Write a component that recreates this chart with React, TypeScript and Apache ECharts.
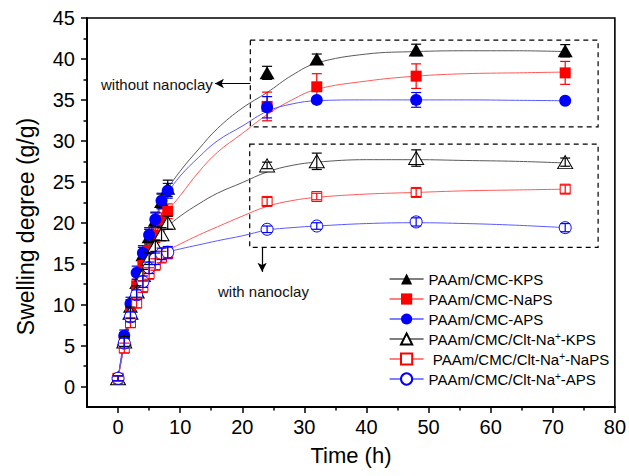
import React, { useEffect, useRef } from "react";
import * as echarts from "echarts";

const FONT = "'Liberation Sans', Arial, Helvetica, sans-serif";

// Measurement times (h)
const times = [0, 1, 2, 3, 4, 5, 6, 7, 8, 24, 32, 48, 72];

// Swelling degree (g/g) per sample
const kps = [1.0, 5.8, 9.8, 12.7, 16.1, 18.3, 20.3, 22.6, 24.2, 38.3, 40.0, 41.1, 41.0];
const kpsErr = [0.3, 0.8, 0.8, 0.8, 0.9, 0.9, 0.9, 0.9, 1.0, 0.8, 0.6, 0.7, 0.75];
const naps = [1.0, 5.6, 9.0, 12.3, 14.8, 16.6, 18.5, 20.3, 21.4, 34.2, 36.6, 37.9, 38.3];
const napsErr = [0.3, 0.7, 0.8, 0.8, 0.9, 0.9, 0.9, 0.9, 0.9, 1.75, 1.6, 1.5, 1.4];
const aps = [1.0, 6.2, 10.1, 13.9, 16.3, 18.5, 20.4, 22.7, 23.9, 34.1, 35.0, 35.0, 34.9];
const apsErr = [0.3, 0.7, 0.8, 0.8, 0.9, 0.9, 0.9, 0.9, 0.9, 1.3, 0.3, 0.9, 0.3];
const cltKps = [1.0, 5.5, 9.0, 11.6, 13.6, 15.6, 17.2, 18.6, 20.0, 27.0, 27.5, 27.9, 27.4];
const cltKpsErr = [0.3, 0.6, 0.7, 0.7, 0.7, 0.7, 0.7, 0.8, 0.8, 0.4, 1.0, 1.0, 0.5];
const cltNaps = [1.0, 4.7, 7.8, 10.2, 12.2, 13.8, 14.9, 15.8, 16.3, 22.6, 23.2, 23.7, 24.1];
const cltNapsErr = [0.3, 0.6, 0.6, 0.6, 0.7, 0.7, 0.7, 0.7, 0.7, 0.5, 0.4, 0.5, 0.5];
const cltAps = [1.0, 5.3, 8.5, 11.2, 12.8, 14.5, 15.6, 16.2, 16.4, 19.2, 19.6, 20.1, 19.4];
const cltApsErr = [0.3, 0.6, 0.6, 0.6, 0.7, 0.7, 0.7, 0.7, 0.7, 0.4, 0.4, 0.5, 0.5];

// Fitted curves
const fitTimes = [0, 1, 2, 3, 4, 5, 6, 7, 8, 10, 13, 16, 20, 24, 28, 32, 40, 48, 56, 64, 72];
const fitKps = [1.0, 5.6, 9.6, 12.9, 15.8, 18.3, 20.5, 22.5, 24.1, 26.3, 29.0, 31.5, 34.0, 35.9, 38.0, 39.5, 40.6, 40.9, 41.0, 41.0, 40.9];
const fitNaps = [1.0, 5.3, 8.9, 12.0, 14.6, 16.8, 18.6, 20.1, 21.4, 23.3, 26.2, 28.6, 30.9, 33.2, 35.0, 36.3, 37.3, 37.9, 38.2, 38.3, 38.4];
const fitAps = [1.0, 6.0, 10.0, 13.4, 16.1, 18.4, 20.4, 22.1, 23.6, 25.7, 28.0, 30.0, 31.8, 33.6, 34.5, 34.9, 35.0, 35.0, 35.0, 34.95, 34.9];
const fitCltKps = [1.0, 5.3, 8.9, 11.6, 13.8, 15.6, 17.1, 18.4, 19.5, 20.8, 22.3, 23.6, 24.9, 26.2, 27.0, 27.4, 27.7, 27.7, 27.6, 27.5, 27.3];
const fitCltNaps = [1.0, 4.8, 7.9, 10.3, 12.3, 13.8, 15.0, 15.9, 16.6, 17.4, 18.5, 19.5, 20.8, 22.0, 22.7, 23.1, 23.5, 23.7, 23.9, 24.0, 24.1];
const fitCltAps = [1.0, 5.2, 8.5, 11.0, 12.9, 14.3, 15.3, 16.0, 16.4, 16.8, 17.3, 17.8, 18.4, 19.1, 19.4, 19.6, 19.9, 20.0, 19.9, 19.7, 19.4];

// Axis ticks
const xMajor = [0, 10, 20, 30, 40, 50, 60, 70, 80];
const xMinor = [5, 15, 25, 35, 45, 55, 65, 75];
const yMajor = [0, 5, 10, 15, 20, 25, 30, 35, 40, 45];
const yMinor = [2.5, 7.5, 12.5, 17.5, 22.5, 27.5, 32.5, 37.5, 42.5];

// Annotation boxes (data coordinates)
const boxWithout = [[21.3, 42.3], [77.3, 31.7]];
const boxWith = [[21.2, 29.6], [77.3, 17.0]];
const arrowWithout = [[21.3, 37.0], [15.6, 37.0]];
const arrowWith = [[23.2, 17.0], [23.2, 14.0]];

const names = [
  "PAAm/CMC-KPS",
  "PAAm/CMC-NaPS",
  "PAAm/CMC-APS",
  "PAAm/CMC/Clt-Na+-KPS",
  "PAAm/CMC/Clt-Na+-NaPS",
  "PAAm/CMC/Clt-Na+-APS",
];

export default function App() {
  const ref = useRef<HTMLDivElement>(null);

  useEffect(() => {
    if (!ref.current) return;
    const chart = echarts.init(ref.current, null, { renderer: "svg" });

    const sets = [
      { name: names[0], vals: kps, err: kpsErr, fit: fitKps, color: "#000000", fitColor: "#5a5a5a", symbol: "triangle", size: [15, 13], open: false },
      { name: names[1], vals: naps, err: napsErr, fit: fitNaps, color: "#ff0000", fitColor: "#ff5a5a", symbol: "rect", size: 11, open: false },
      { name: names[2], vals: aps, err: apsErr, fit: fitAps, color: "#0000ff", fitColor: "#5a5aff", symbol: "circle", size: 12, open: false },
      { name: names[3], vals: cltKps, err: cltKpsErr, fit: fitCltKps, color: "#000000", fitColor: "#5a5a5a", symbol: "triangle", size: [15, 13], open: true },
      { name: names[4], vals: cltNaps, err: cltNapsErr, fit: fitCltNaps, color: "#ff0000", fitColor: "#ff5a5a", symbol: "rect", size: 10, open: true },
      { name: names[5], vals: cltAps, err: cltApsErr, fit: fitCltAps, color: "#0000ff", fitColor: "#5a5aff", symbol: "circle", size: 12, open: true },
    ];

    const series: any[] = [];

    sets.forEach((s, i) => {
      series.push({
        type: "line",
        name: s.name + "_fit",
        data: fitTimes.map((t, k) => [t, s.fit[k]]),
        smooth: 0.4,
        showSymbol: false,
        symbol: "none",
        lineStyle: { color: s.fitColor, width: 1 },
        z: 1,
        silent: true,
        ...(i === 0
          ? {
              markArea: {
                silent: true,
                itemStyle: { color: "rgba(0,0,0,0)", borderColor: "#000", borderWidth: 1.2, borderType: [5, 4] },
                data: [
                  [{ coord: boxWithout[0] }, { coord: boxWithout[1] }],
                  [{ coord: boxWith[0] }, { coord: boxWith[1] }],
                ],
              },
              markLine: {
                silent: true,
                symbol: ["none", "arrow"],
                symbolSize: [7, 9],
                label: { show: false },
                lineStyle: { color: "#000", width: 1.2, type: "solid" },
                data: [
                  [{ coord: arrowWithout[0] }, { coord: arrowWithout[1] }],
                  [{ coord: arrowWith[0] }, { coord: arrowWith[1] }],
                ],
              },
            }
          : {}),
      });
    });

    sets.forEach((s) => {
      series.push({
        type: "custom",
        name: s.name + "_err",
        z: s.open ? 5 : 2,
        silent: true,
        encode: { x: 0, y: 1 },
        data: times.map((t, k) => [t, s.vals[k], s.err[k]]),
        renderItem: (params: any, api: any) => {
          const x = api.value(0);
          const y = api.value(1);
          const e = api.value(2);
          const top = api.coord([x, y + e]);
          const bot = api.coord([x, y - e]);
          const hw = 5;
          const style = { stroke: s.color, lineWidth: 1.2 };
          return {
            type: "group",
            children: [
              { type: "line", shape: { x1: top[0], y1: top[1], x2: bot[0], y2: bot[1] }, style },
              { type: "line", shape: { x1: top[0] - hw, y1: top[1], x2: top[0] + hw, y2: top[1] }, style },
              { type: "line", shape: { x1: bot[0] - hw, y1: bot[1], x2: bot[0] + hw, y2: bot[1] }, style },
            ],
          };
        },
      });
      series.push({
        type: "line",
        name: s.name,
        data: times.map((t, k) => [t, s.vals[k]]),
        symbol: s.symbol,
        symbolSize: s.size,
        showAllSymbol: true,
        lineStyle: { opacity: 0, color: s.color },
        itemStyle: s.open
          ? { color: "#ffffff", borderColor: s.color, borderWidth: 1 }
          : { color: s.color, borderWidth: 0 },
        z: s.open ? 4 : 3,
      });
    });

    const option: any = {
      animation: false,
      textStyle: { fontFamily: FONT },
      grid: { left: 87, right: 11, top: 18, bottom: 69, show: true, borderColor: "#000", borderWidth: 1.6 },
      legend: {
        data: names,
        orient: "vertical",
        left: 389,
        top: 271,
        padding: 0,
        itemWidth: 34,
        itemHeight: 14,
        itemGap: 4,
        lineStyle: { width: 1.2, opacity: 1 },
        selectedMode: false,
        formatter: (n: string) => {
          const m = n.match(/^(.*Na)\+(-.*)$/);
          if (m) return (n.endsWith("NaPS") ? " " : "") + m[1] + "{sup|+}" + m[2];
          return n;
        },
        textStyle: {
          fontFamily: FONT,
          fontSize: 15,
          color: "#000",
          lineHeight: 16,
          rich: { sup: { fontSize: 10, verticalAlign: "top", lineHeight: 10, color: "#000", fontFamily: FONT } },
        },
      },
      xAxis: [
        {
          type: "value",
          min: -5,
          max: 80,
          position: "bottom",
          name: "Time (h)",
          nameLocation: "middle",
          nameGap: 37,
          nameTextStyle: { fontSize: 22, color: "#000", fontFamily: FONT },
          axisLine: { show: true, onZero: false, lineStyle: { color: "#000", width: 2 } },
          axisTick: { show: true, inside: false, length: 6, lineStyle: { color: "#000", width: 1.5 }, customValues: xMajor },
          axisLabel: { show: true, customValues: xMajor, fontSize: 20, color: "#000", margin: 10, fontFamily: FONT },
          splitLine: { show: false },
        },
        {
          type: "value",
          min: -5,
          max: 80,
          position: "bottom",
          axisLine: { show: false, onZero: false },
          axisTick: { show: true, inside: false, length: 3.5, lineStyle: { color: "#000", width: 1.5 }, customValues: xMinor },
          axisLabel: { show: false },
          splitLine: { show: false },
        },
      ],
      yAxis: [
        {
          type: "value",
          min: -2.5,
          max: 45,
          position: "left",
          name: "Swelling degree (g/g)",
          nameLocation: "middle",
          nameGap: 50,
          nameTextStyle: { fontSize: 23, color: "#000", fontFamily: FONT, padding: [0, 28, 0, 0] },
          axisLine: { show: true, onZero: false, lineStyle: { color: "#000", width: 2 } },
          axisTick: { show: true, inside: false, length: 6, lineStyle: { color: "#000", width: 1.5 }, customValues: yMajor },
          axisLabel: { show: true, customValues: yMajor, fontSize: 20, color: "#000", margin: 12, fontFamily: FONT },
          splitLine: { show: false },
        },
        {
          type: "value",
          min: -2.5,
          max: 45,
          position: "left",
          axisLine: { show: false, onZero: false },
          axisTick: { show: true, inside: false, length: 3.5, lineStyle: { color: "#000", width: 1.5 }, customValues: yMinor },
          axisLabel: { show: false },
          splitLine: { show: false },
        },
      ],
      graphic: [
        { type: "text", left: 101, top: 77, style: { text: "without nanoclay", fontSize: 15, fontFamily: FONT, fill: "#111" } },
        { type: "text", left: 218, top: 284, style: { text: "with nanoclay", fontSize: 15, fontFamily: FONT, fill: "#111" } },
      ],
      series,
    };

    chart.setOption(option);
    return () => chart.dispose();
  }, []);

  return <div ref={ref} style={{ position: "absolute", left: 0, top: 0, width: 629, height: 476 }} />;
}
